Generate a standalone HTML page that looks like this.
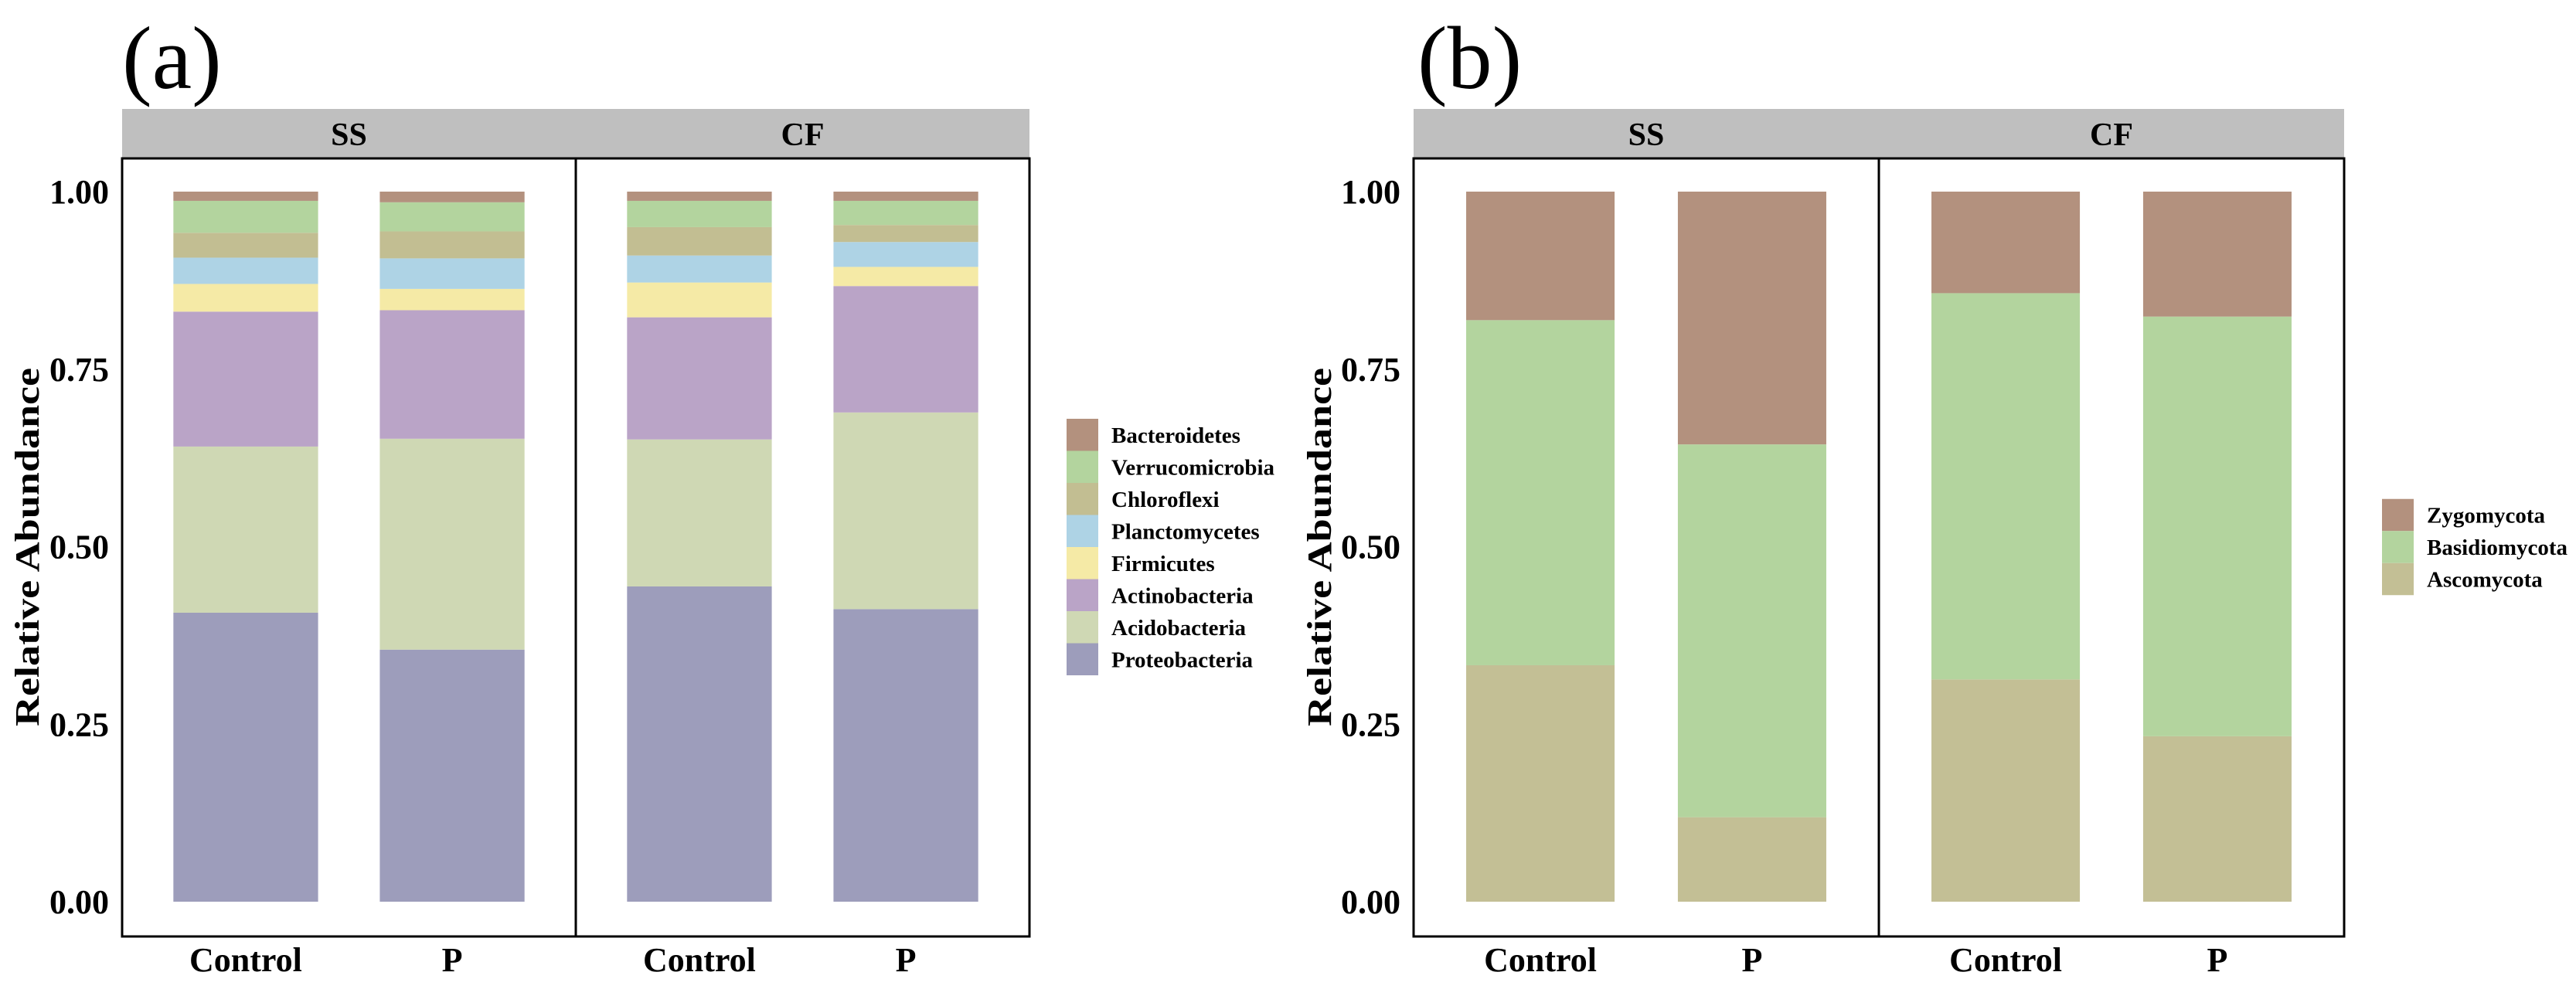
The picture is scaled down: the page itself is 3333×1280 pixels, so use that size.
<!DOCTYPE html>
<html><head><meta charset="utf-8">
<style>
html,body{margin:0;padding:0;background:#fff;}
svg{display:block;}
text{font-family:"Liberation Serif",serif;font-weight:bold;fill:#000;}
</style></head>
<body>
<svg id="chart" width="3333" height="1280" viewBox="0 0 3333 1280" xmlns="http://www.w3.org/2000/svg">
<g id="root"></g>
</svg>
<script>
// ---- data ----
const facets = ["SS", "CF"];
const treatments = ["Control", "P"];
const yTicks = [0, 0.25, 0.5, 0.75, 1.0];
const yTickLabels = ["0.00", "0.25", "0.50", "0.75", "1.00"];

// Panel (a) bacteria, stacked bottom -> top
const bacSeries = ["Proteobacteria","Acidobacteria","Actinobacteria","Firmicutes","Planctomycetes","Chloroflexi","Verrucomicrobia","Bacteroidetes"];
const bacColors = ["#9d9dbb","#cfd8b4","#baa4c7","#f5eaa6","#aed3e5","#c2be92","#b3d49e","#b3917e"];
const bacSSControl = [0.407,0.234,0.190,0.039,0.037,0.035,0.045,0.013];
const bacSSP       = [0.355,0.297,0.181,0.030,0.043,0.038,0.041,0.015];
const bacCFControl = [0.444,0.207,0.172,0.049,0.038,0.040,0.037,0.013];
const bacCFP       = [0.412,0.277,0.178,0.027,0.035,0.024,0.034,0.013];

// Panel (b) fungi, stacked bottom -> top
const funSeries = ["Ascomycota","Basidiomycota","Zygomycota"];
const funColors = ["#c3bf95","#b3d49e","#b3917e"];
const funSSControl = [0.333,0.486,0.181];
const funSSP       = [0.119,0.525,0.356];
const funCFControl = [0.313,0.544,0.143];
const funCFP       = [0.233,0.591,0.176];

// ---- drawing ----
const NS = "http://www.w3.org/2000/svg";
const root = document.getElementById("root");
function el(tag, attrs, parent, txt){
  const e = document.createElementNS(NS, tag);
  for (const k in attrs) e.setAttribute(k, attrs[k]);
  if (txt !== undefined) e.textContent = txt;
  (parent||root).appendChild(e);
  return e;
}
const Y0 = 1167, Y1 = 248;
function yScale(v){ return Y0 + (Y1 - Y0) * v; }

function panel(cfg){
  const g = el("g", {});
  
  
  const pw = cfg.panelW;
  const lab = el("text", {x: cfg.labelX, y: 114, "font-size": 116, style:"font-weight:normal"}, g, cfg.label);
  
  
  facets.forEach((f, fi) => {
    const px = cfg.x0 + fi * pw;
    const strip = el("rect", {x: px, y: 141, width: pw, height: 64, fill: "#bfbfbf"}, g);
    
    
    const st = el("text", {x: px + pw/2, y: 188, "font-size": 42, "text-anchor": "middle", fill:"#1a1a1a"}, g, f);
    
    
    const box = el("rect", {x: px, y: 205, width: pw, height: 1007, fill: "none", stroke: "#000", "stroke-width": 3}, g);
    
    
    treatments.forEach((t, ti) => {
      const vals = cfg.data[fi*2 + ti];
      const cx = px + pw * (ti === 0 ? 0.2725 : 0.7275);
      const bw = pw * 0.319;
      let cum = 0;
      vals.forEach((v, si) => {
        const yTop = yScale(cum + v), yBot = yScale(cum);
        const r = el("rect", {x: cx - bw/2, y: yTop, width: bw, height: yBot - yTop, fill: cfg.colors[si]}, g);
        
        
        cum += v;
      });
      const xl = el("text", {x: cx, y: 1257, "font-size": 44, "text-anchor": "middle"}, g, t);
      
      
    });
  });
  yTicks.forEach((v, i) => {
    const tl = el("text", {x: cfg.x0 - 17, y: yScale(v) + 15, "font-size": 44, "text-anchor": "end"}, g, yTickLabels[i]);
    
    
  });
  const yt = el("text", {x: 0, y: 0, "font-size": 44, "text-anchor": "middle", transform: `translate(${cfg.titleX},708) rotate(-90)`, textLength: 464, lengthAdjust: "spacingAndGlyphs"}, g, "Relative Abundance");
  
  
  const n = cfg.series.length;
  const kh = 41.5;
  const top = 708 - n*kh/2;
  const lg = el("g", {}, g);
  
  
  for (let k = 0; k < n; k++){
    const si = n - 1 - k;
    const key = el("rect", {x: cfg.legX, y: top + k*kh, width: 41, height: kh, fill: cfg.colors[si]}, lg);
    
    
    const lt = el("text", {x: cfg.legX + 58, y: top + k*kh + kh/2 + 10, "font-size": 29}, lg, cfg.series[si]);
    
    
  }
}

panel({name:"panel-a-bacteria", label:"(a)", labelX:158, x0:158, panelW:587, titleX:50,
  data:[bacSSControl,bacSSP,bacCFControl,bacCFP], series:bacSeries, colors:bacColors, legX:1380});
panel({name:"panel-b-fungi", label:"(b)", labelX:1834, x0:1829, panelW:602, titleX:1722,
  data:[funSSControl,funSSP,funCFControl,funCFP], series:funSeries, colors:funColors, legX:3082});
</script>
</body></html>
